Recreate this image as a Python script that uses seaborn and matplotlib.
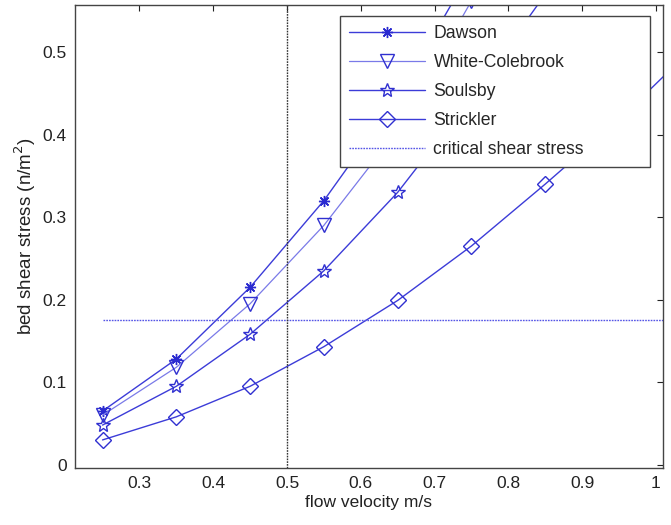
import numpy as np
import pandas as pd
import matplotlib
matplotlib.use('Agg')
import matplotlib.pyplot as plt
import seaborn as sns

# dados
velocity = [0.25, 0.35, 0.45, 0.55, 0.65, 0.75, 0.85, 0.95, 1.05]
dawson = [0.065, 0.128, 0.215, 0.320, 0.445, 0.600, 0.780, 0.980, 1.200]
white_colebrook = [0.060, 0.118, 0.195, 0.290, 0.405, 0.562, 0.720, 0.900, 1.100]
soulsby = [0.048, 0.095, 0.158, 0.235, 0.330, 0.445, 0.570, 0.710, 0.860]
strickler = [0.030, 0.058, 0.095, 0.143, 0.199, 0.265, 0.340, 0.418, 0.505]
critical_x = [0.25, 1.05]
critical_y = [0.175, 0.175]
limit_velocity = 0.5

sns.set_style('white')
plt.rcParams['font.family'] = ['Liberation Sans', 'DejaVu Sans']

fig = plt.figure(figsize=(6.71, 5.25), dpi=100)
ax = fig.add_axes([0.1118, 0.1086, 0.8762, 0.8819])

df = pd.DataFrame({'v': velocity, 'Dawson': dawson, 'White-Colebrook': white_colebrook,
                   'Soulsby': soulsby, 'Strickler': strickler})

blue = '#3c3cd8'
estilos = {
    'Dawson': dict(marker=(8, 2, 0), markersize=8, color=blue, lw=1.0, markeredgecolor='#2a2ad0'),
    'White-Colebrook': dict(marker='v', markersize=9.5, color='#7a7ae8', lw=0.9,
                            markeredgecolor='#3030d0'),
    'Soulsby': dict(marker='*', markersize=10.5, color=blue, lw=1.0, markeredgecolor='#3030d0'),
    'Strickler': dict(marker='D', markersize=8, color=blue, lw=1.0, markeredgecolor='#3030d0'),
}
for nome, st in estilos.items():
    sns.lineplot(data=df, x='v', y=nome, ax=ax, label=nome, markerfacecolor='none',
                 markeredgewidth=1.0, **st)

sns.lineplot(x=critical_x, y=critical_y, ax=ax, color='#5555e6', lw=1.0,
             linestyle=(0, (1.2, 0.8)), label='critical shear stress')
ax.axvline(limit_velocity, color='#333333', lw=1.0, linestyle=(0, (1.2, 0.8)))

ax.set_xlim(0.2127, 1.0095)
ax.set_ylim(-0.004, 0.557)
ax.set_xticks([0.3, 0.4, 0.5, 0.6, 0.7, 0.8, 0.9, 1.0])
ax.set_xticklabels(['0.3', '0.4', '0.5', '0.6', '0.7', '0.8', '0.9', '1'])
ax.set_yticks([0, 0.1, 0.2, 0.3, 0.4, 0.5])
ax.set_yticklabels(['0', '0.1', '0.2', '0.3', '0.4', '0.5'])
ax.tick_params(direction='in', length=4, width=0.8, top=True, right=True,
               labelsize=12.5, colors='#222222', pad=6)
for s in ax.spines.values():
    s.set_color('#444444')
    s.set_linewidth(1.0)

ax.set_xlabel('flow velocity m/s', fontsize=12.5, color='#222222', labelpad=3)
ax.set_ylabel('bed shear stress (n/m$^2$)', fontsize=13.5, color='#222222', labelpad=3)

# legenda com largura fixa como no original
leg = ax.legend(loc='upper left', bbox_to_anchor=(0.4507, 0.976, 0.527, 0.0),
                mode='expand', fontsize=12.7, handlelength=4.3, frameon=True,
                fancybox=False, framealpha=1.0, borderpad=0.5, labelspacing=0.68,
                handletextpad=0.5, borderaxespad=0.0)
leg.get_frame().set_edgecolor('#444444')
leg.get_frame().set_linewidth(1.0)
leg.set_zorder(10)

plt.savefig('out.png', dpi=100)
